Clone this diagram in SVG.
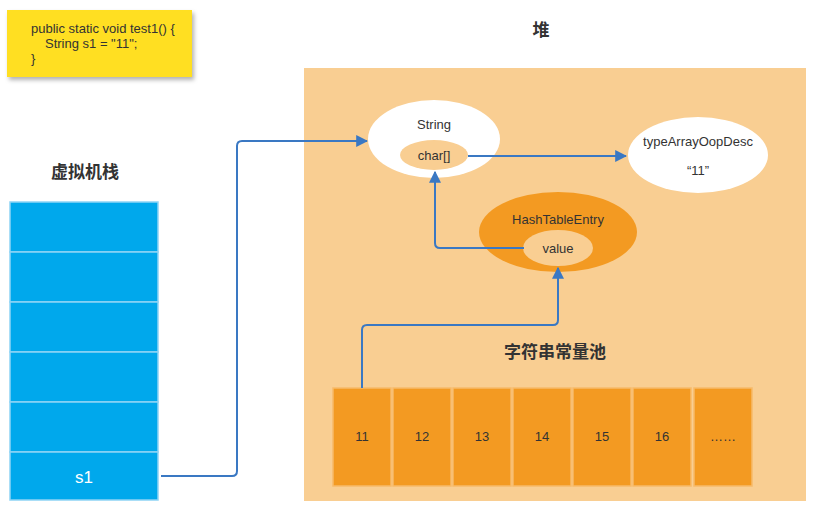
<svg xmlns="http://www.w3.org/2000/svg" width="814" height="509" viewBox="0 0 814 509">
<defs>
<style>
.t{font-family:"Liberation Sans",Arial,sans-serif;fill:#333;font-size:13px;text-anchor:middle}
.code{font-family:"Liberation Sans",Arial,sans-serif;fill:#333;font-size:13px}
.h{font-family:"Noto Sans CJK SC","Liberation Sans",sans-serif;font-weight:bold;fill:#333;font-size:17px;text-anchor:middle}
.cell{fill:#00A8EC;stroke:#8fd3f5;stroke-width:1.5}
.pool{fill:#F39A22;stroke:#F7BA6A;stroke-width:1.5}
.conn{fill:none;stroke:#3A78C3;stroke-width:2;stroke-linejoin:round}
</style>
<marker id="ah" viewBox="0 0 10 10" refX="9" refY="5" markerWidth="12" markerHeight="12" markerUnits="userSpaceOnUse" orient="auto">
<path d="M0,0 L10,5 L0,10 z" fill="#3A78C3"/>
</marker>
<filter id="sh" x="-10%" y="-10%" width="125%" height="130%">
<feDropShadow dx="2" dy="3" stdDeviation="2" flood-color="#000" flood-opacity="0.3"/>
</filter>
</defs>
<rect width="814" height="509" fill="#fff"/>

<g id="code">
<rect x="7" y="10" width="185" height="67" fill="#FFDF20" filter="url(#sh)"/>
<text class="code" x="31" y="33">public static void test1() {</text>
<text class="code" x="45" y="48">String s1 = "11";</text>
<text class="code" x="31" y="63">}</text>
</g>

<g id="heap">
<rect x="304" y="68" width="502" height="433" fill="#F9CE92"/>
<text class="h" x="541" y="36">堆</text>
</g>

<g id="stack">
<text class="h" x="85" y="178">虚拟机栈</text>
<rect class="cell" x="10" y="202" width="148" height="50"/>
<rect class="cell" x="10" y="252" width="148" height="50"/>
<rect class="cell" x="10" y="302" width="148" height="50"/>
<rect class="cell" x="10" y="352" width="148" height="50"/>
<rect class="cell" x="10" y="402" width="148" height="50"/>
<rect class="cell" x="10" y="452" width="148" height="48"/>
<text class="t" x="84" y="483" style="fill:#fff;font-size:17px">s1</text>
</g>

<g id="string">
<ellipse cx="434" cy="139" rx="66" ry="39" fill="#fff"/>
<text class="t" x="434" y="129">String</text>
<ellipse cx="434" cy="155" rx="34" ry="15" fill="#F9CE92"/>
<text class="t" x="434" y="160">char[]</text>
</g>

<g id="typeArray">
<ellipse cx="698" cy="155" rx="70" ry="38" fill="#fff"/>
<text class="t" x="698" y="146">typeArrayOopDesc</text>
<text class="t" x="698" y="175">“11”</text>
</g>

<g id="hashEntry">
<ellipse cx="558" cy="232" rx="79" ry="40" fill="#F39A22"/>
<text class="t" x="558" y="224">HashTableEntry</text>
<ellipse cx="558" cy="248" rx="35" ry="18" fill="#F9CE92"/>
<text class="t" x="558" y="253">value</text>
</g>

<g id="pool">
<text class="h" x="555" y="358">字符串常量池</text>
<rect class="pool" x="333" y="388" width="58" height="98"/>
<rect class="pool" x="393" y="388" width="58" height="98"/>
<rect class="pool" x="453" y="388" width="58" height="98"/>
<rect class="pool" x="513" y="388" width="58" height="98"/>
<rect class="pool" x="573" y="388" width="58" height="98"/>
<rect class="pool" x="633" y="388" width="58" height="98"/>
<rect class="pool" x="694" y="388" width="58" height="98"/>
<text class="t" x="362" y="441">11</text>
<text class="t" x="422" y="441">12</text>
<text class="t" x="482" y="441">13</text>
<text class="t" x="542" y="441">14</text>
<text class="t" x="602" y="441">15</text>
<text class="t" x="662" y="441">16</text>
<text class="t" x="723" y="441">……</text>
</g>

<g id="connectors">
<path class="conn" d="M161,476 H232 Q237,476 237,471 V146 Q237,141 242,141 H367" marker-end="url(#ah)"/>
<path class="conn" d="M468,156 H626" marker-end="url(#ah)"/>
<path class="conn" d="M524,248 H440 Q435,248 435,243 V172" marker-end="url(#ah)"/>
<path class="conn" d="M362,388 V330 Q362,325 367,325 H553 Q558,325 558,320 V268" marker-end="url(#ah)"/>
</g>
</svg>
